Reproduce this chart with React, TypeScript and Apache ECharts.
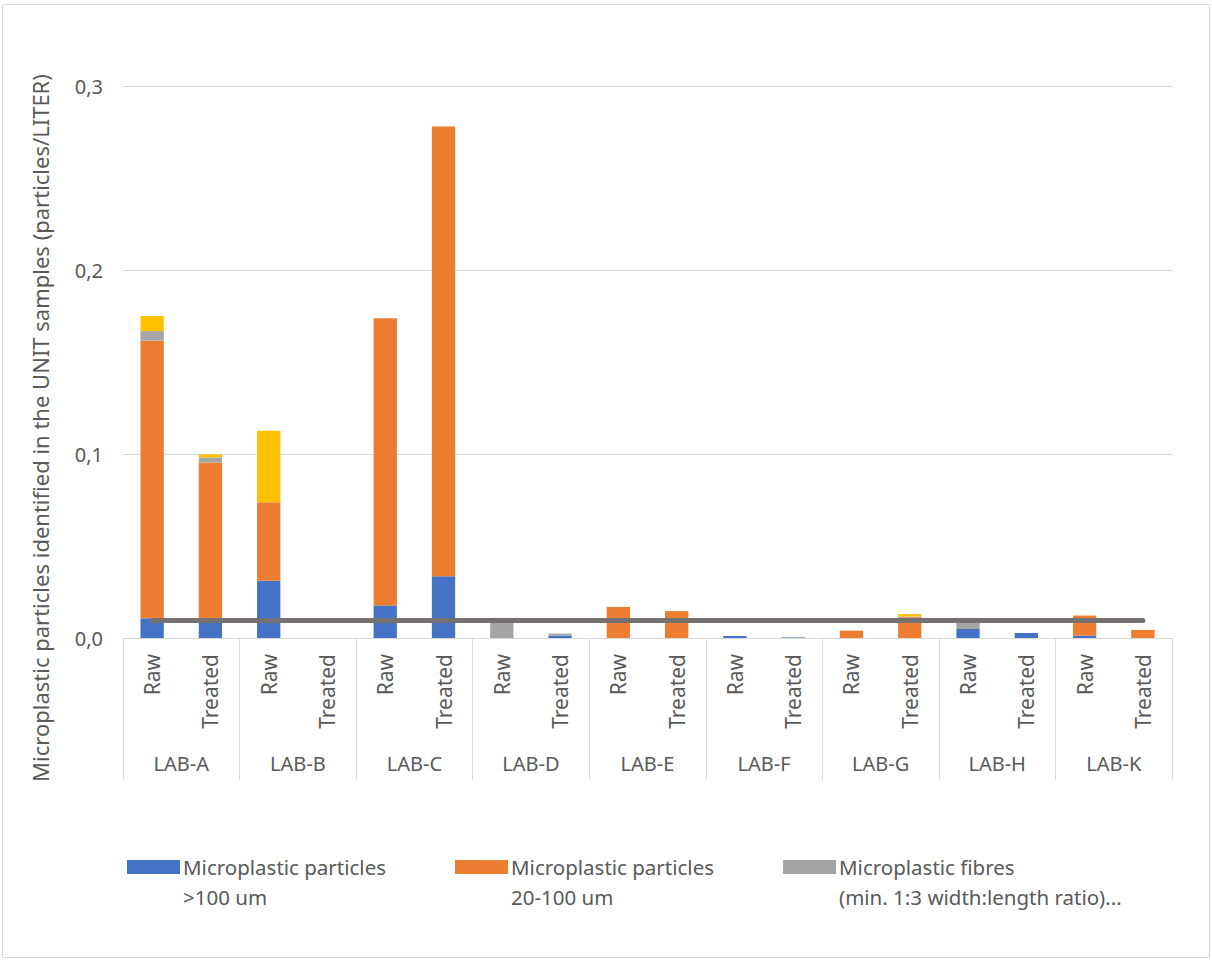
import React, { useEffect, useRef } from "react";
import * as echarts from "echarts";

const labs = ["LAB-A", "LAB-B", "LAB-C", "LAB-D", "LAB-E", "LAB-F", "LAB-G", "LAB-H", "LAB-K"];
const samples = ["Raw", "Treated"];
const categories = labs.flatMap((l) => samples.map((s) => `${l}|${s}`));

const seriesNames = [
  "Microplastic particles\n>100 um",
  "Microplastic particles\n20-100 um",
  "Microplastic fibres\n(min. 1:3 width:length ratio)...",
  "Other microplastics",
];
const colors = ["#4472C4", "#ED7D31", "#A5A5A5", "#FFC000"];

// order: A-Raw, A-Treated, B-Raw, B-Treated, ... K-Raw, K-Treated
const over100 = [0.0107, 0.009, 0.0311, 0, 0.0177, 0.0336, 0, 0.0012, 0, 0, 0.0011, 0.0003, 0, 0, 0.0049, 0.0027, 0.0013, 0];
const from20to100 = [0.1509, 0.0864, 0.0427, 0, 0.1561, 0.2444, 0, 0, 0.0169, 0.0146, 0, 0, 0.004, 0.0113, 0, 0, 0.0109, 0.0044];
const fibres = [0.0052, 0.0027, 0, 0, 0, 0, 0.009, 0.0012, 0, 0, 0, 0.0003, 0, 0.0004, 0.0044, 0, 0, 0];
const other = [0.0082, 0.0017, 0.0389, 0, 0, 0, 0, 0, 0, 0, 0, 0, 0, 0.0013, 0, 0, 0, 0];
const limitName = "Limit";
const limitValue = 0.0095;
const limitLine = categories.map(() => limitValue);

const yTicks = [0, 0.1, 0.2, 0.3];
const yTitle = "Microplastic particles identified in the UNIT samples (particles/LITER)";

const FONT = "'Noto Sans', sans-serif";
const TXT = "#595959";
const GRID = "#D9D9D9";

export default function App() {
  const ref = useRef<HTMLDivElement>(null);
  useEffect(() => {
    document.body.style.margin = "0";
    if (!ref.current) return;
    const chart = echarts.init(ref.current, undefined, { renderer: "svg" });
    const seriesData = [over100, from20to100, fibres, other];
    const legendGraphics: any[] = [];
    for (let i = 0; i < 3; i++) {
      legendGraphics.push({
        type: "rect",
        shape: { x: 127 + 328 * i, y: 860, width: 53, height: 14 },
        style: { fill: colors[i] },
      });
      legendGraphics.push({
        type: "text",
        x: 183 + 328 * i,
        y: 852,
        style: {
          text: seriesNames[i],
          fill: TXT,
          font: `20.5px ${FONT}`,
          lineHeight: 30,
          textAlign: "left",
          textVerticalAlign: "top",
        },
      });
    }
    chart.setOption({
      animation: false,
      backgroundColor: "#fff",
      textStyle: { fontFamily: FONT },
      grid: { left: 123, right: 40, top: 86, bottom: 323, containLabel: false },
      legend: { show: false },
      xAxis: [
        {
          type: "category",
          data: categories,
          position: "bottom",
          axisLine: { show: true, lineStyle: { color: GRID, width: 1 } },
          axisTick: { show: false },
          axisLabel: {
            interval: 0,
            rotate: 90,
            margin: 16,
            color: TXT,
            fontSize: 21,
            fontFamily: FONT,
            formatter: (v: string) => v.split("|")[1],
          },
        },
        {
          type: "category",
          data: labs,
          position: "bottom",
          axisLine: { show: false },
          axisTick: { show: true, length: 142, lineStyle: { color: GRID, width: 1 } },
          axisLabel: { interval: 0, margin: 115, color: TXT, fontSize: 20, fontFamily: FONT },
          splitLine: { show: false },
        },
      ],
      yAxis: {
        type: "value",
        min: 0,
        max: 0.3,
        interval: 0.1,
        axisLine: { show: false },
        axisTick: { show: false },
        splitLine: { lineStyle: { color: GRID, width: 1 } },
        axisLabel: {
          margin: 20,
          color: TXT,
          fontSize: 20,
          fontFamily: FONT,
          customValues: yTicks,
          formatter: (v: number) => v.toFixed(1).replace(".", ","),
        },
      },
      series: [
        ...seriesData.map((d, i) => ({
          name: seriesNames[i],
          type: "bar",
          stack: "total",
          xAxisIndex: 0,
          data: d,
          barWidth: "40%",
          itemStyle: { color: colors[i] },
        })),
        {
          name: limitName,
          type: "line",
          xAxisIndex: 0,
          data: limitLine,
          symbol: "none",
          z: 5,
          lineStyle: { color: "#767171", width: 5, cap: "round" },
        },
      ],
      graphic: [
        {
          type: "rect",
          shape: { x: 2.5, y: 4.5, width: 1207, height: 953 },
          style: { fill: "none", stroke: GRID, lineWidth: 1 },
          silent: true,
        },
        {
          type: "text",
          x: 40,
          y: 428,
          rotation: Math.PI / 2,
          style: {
            text: yTitle,
            fill: TXT,
            font: `22px ${FONT}`,
            textAlign: "center",
            textVerticalAlign: "middle",
          },
        },
        ...legendGraphics,
      ],
    });
    return () => chart.dispose();
  }, []);
  return <div ref={ref} style={{ width: 1212, height: 961 }} />;
}
